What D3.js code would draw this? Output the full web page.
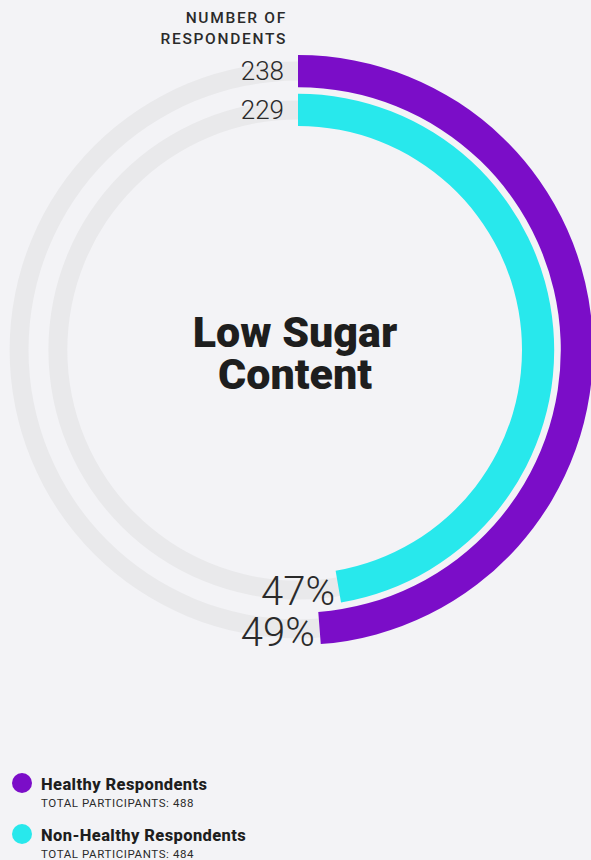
<!DOCTYPE html>
<html>
<head>
<meta charset="utf-8">
<script src="https://cdn.jsdelivr.net/npm/d3@7"></script>
<style>
  html, body { margin: 0; padding: 0; background: #f3f3f6; }
  svg { display: block; font-family: Roboto, "Noto Sans", sans-serif; }
</style>
</head>
<body>
<div id="chart"></div>
<script>
const WIDTH = 591, HEIGHT = 860;
const CX = 298, CY = 350;

// data
var groups = ["Healthy Respondents", "Non-Healthy Respondents"];
var respondents = [238, 229];
var participants = [488, 484];
var colors = ["#7b0dc8", "#28e8ec"];
var chartTitle = ["Low Sugar", "Content"];
var axisTitle = ["NUMBER OF", "RESPONDENTS"];

var data = groups.map(function (g, i) {
    return { name: g, value: respondents[i], total: participants[i], color: colors[i] };
});

var svg = d3.select("#chart").append("svg")
    .attr("width", WIDTH)
    .attr("height", HEIGHT);

svg.append("rect").attr("width", WIDTH).attr("height", HEIGHT).attr("fill", "#f3f3f6");

// share of participants -> angle
var angle = d3.scaleLinear().domain([0, 1]).range([0, 2 * Math.PI]);

// one ring per group, outer ring first in the data
var radius = d3.scaleBand()
    .domain(groups.slice().reverse())
    .range([224, 295])
    .paddingInner(0.17);

var g = svg.append("g").attr("transform", "translate(" + CX + "," + CY + ")");

var bands = data.map(function (d) {
    var inner = radius(d.name);
    var outer = inner + radius.bandwidth();
    return { d: d, inner: inner, outer: outer, mid: (inner + outer) / 2, end: angle(d.value / d.total) };
});

// gray tracks
var arc = d3.arc();
g.selectAll(".track")
    .data(bands)
    .enter()
    .append("path")
    .attr("d", function (b) {
        return arc({ innerRadius: b.mid - 9.5, outerRadius: b.mid + 9.5, startAngle: 0, endAngle: 2 * Math.PI });
    })
    .attr("fill", "#e9e9eb");

// value arcs
g.selectAll(".bar")
    .data(bands)
    .enter()
    .append("path")
    .attr("d", function (b) {
        return arc({ innerRadius: b.inner, outerRadius: b.outer, startAngle: 0, endAngle: b.end });
    })
    .attr("fill", function (b) { return b.d.color; });

// counts at start of arcs
g.selectAll(".count")
    .data(bands)
    .enter()
    .append("text")
    .attr("x", -14)
    .attr("y", function (b) { return -b.mid; })
    .attr("dy", "0.36em")
    .attr("text-anchor", "end")
    .attr("font-size", 26)
    .attr("font-weight", 300)
    .attr("fill", "#2a2a2a")
    .text(function (b) { return b.d.value; });

// percentages at end of arcs
var fmt = d3.format(".0%");
g.selectAll(".pct")
    .data(bands)
    .enter()
    .append("text")
    .attr("x", function (b) { return b.outer * Math.sin(b.end) - 6; })
    .attr("y", function (b) { return -b.outer * Math.cos(b.end); })
    .attr("dy", "0.05em")
    .attr("text-anchor", "end")
    .attr("font-size", 40)
    .attr("font-weight", 300)
    .attr("fill", "#2a2a2a")
    .text(function (b) { return fmt(b.d.value / b.d.total); });

// axis title
svg.append("text")
    .attr("text-anchor", "end")
    .attr("font-size", 15.5)
    .attr("font-weight", 500)
    .attr("letter-spacing", 1.7)
    .attr("fill", "#2a2a2a")
    .selectAll("tspan")
    .data(axisTitle)
    .enter()
    .append("tspan")
    .attr("x", 287)
    .attr("y", function (d, i) { return 23 + i * 21; })
    .text(function (d) { return d; });

// center title
svg.append("text")
    .attr("text-anchor", "middle")
    .attr("font-size", 43)
    .attr("font-weight", 900)
    .attr("fill", "#1e1e1e")
    .selectAll("tspan")
    .data(chartTitle)
    .enter()
    .append("tspan")
    .attr("x", 295)
    .attr("y", function (d, i) { return 347 + i * 42; })
    .text(function (d) { return d; });

// legend
var legend = svg.selectAll(".legend")
    .data(data)
    .enter()
    .append("g")
    .attr("transform", function (d, i) { return "translate(22," + (783 + i * 51) + ")"; });

legend.append("circle")
    .attr("r", 10)
    .attr("fill", function (d) { return d.color; });

legend.append("text")
    .attr("x", 19)
    .attr("y", 7)
    .attr("font-size", 16.5)
    .attr("font-weight", 800)
    .attr("letter-spacing", 0.4)
    .attr("fill", "#1e1e1e")
    .text(function (d) { return d.name; });

legend.append("text")
    .attr("x", 19)
    .attr("y", 24)
    .attr("font-size", 11.5)
    .attr("letter-spacing", 0.6)
    .attr("fill", "#2a2a2a")
    .text(function (d) { return "TOTAL PARTICIPANTS: " + d.total; });
</script>
</body>
</html>
